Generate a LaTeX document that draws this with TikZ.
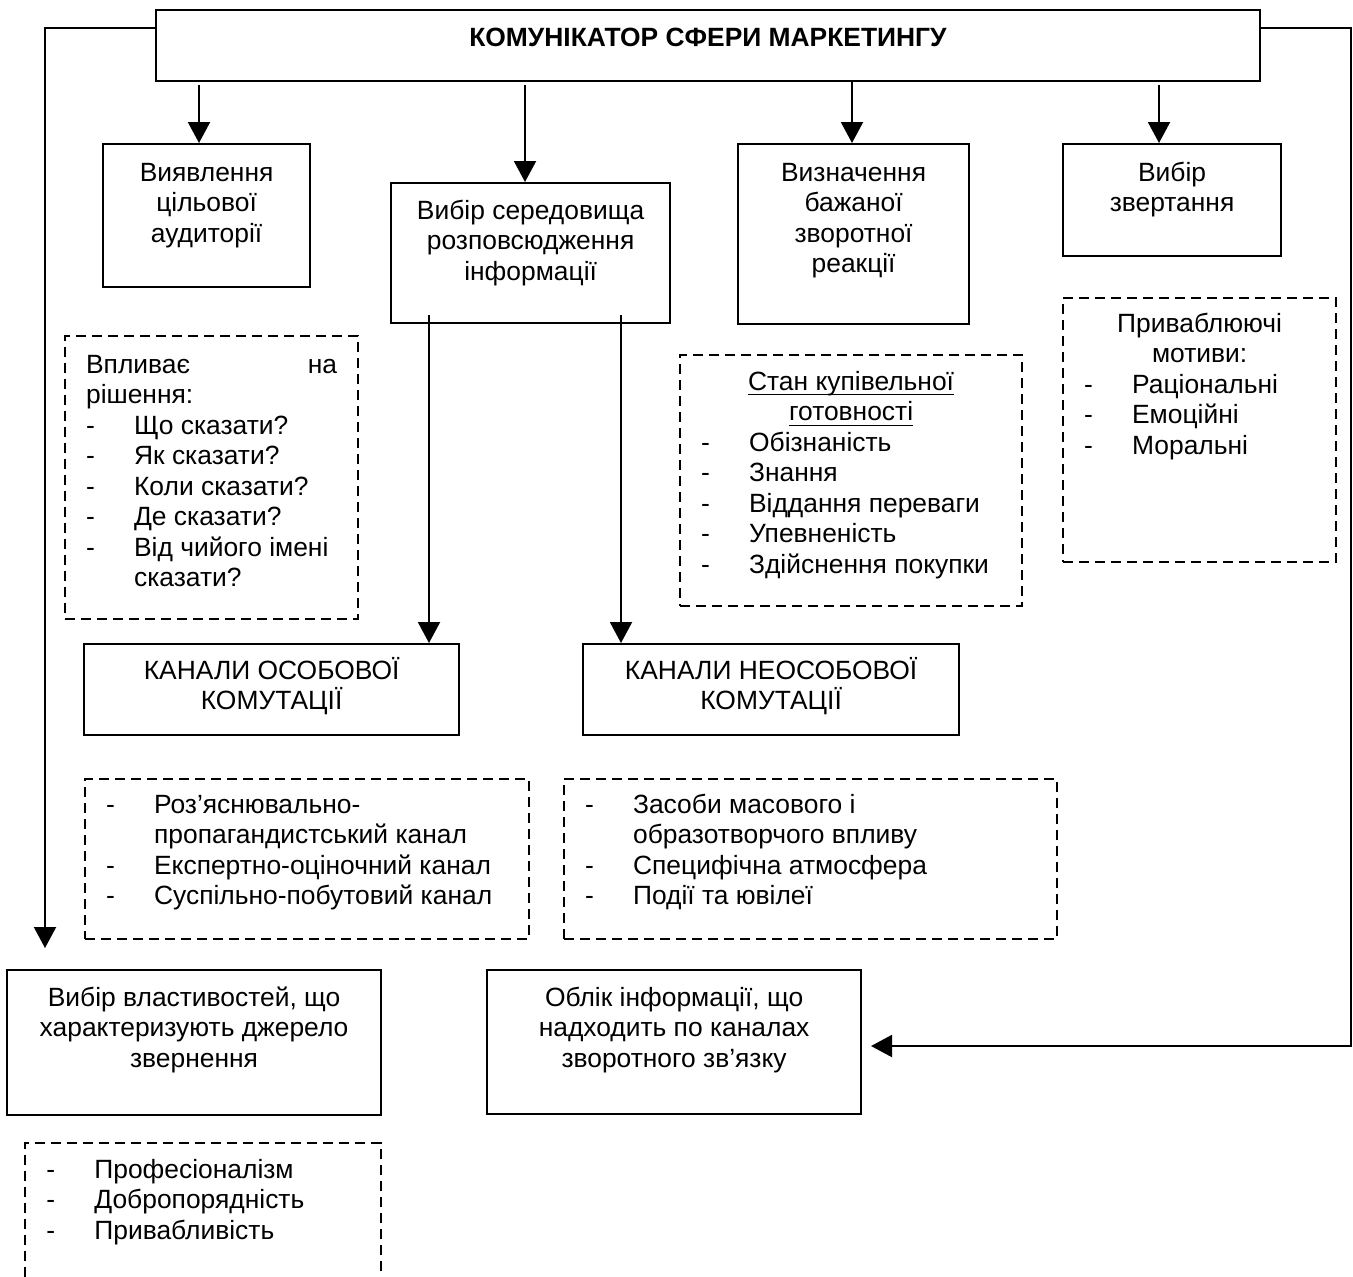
\documentclass[tikz,border=0pt]{standalone}
\usepackage{fontspec}
\setmainfont{Liberation Sans}
\usetikzlibrary{arrows.meta}
\newlength\px \setlength\px{0.5pt}
\newlength\ulw
\newcommand\uln[1]{\settowidth\ulw{#1}\rlap{\rule[-2.6pt]{\ulw}{0.6pt}}#1}
\newcommand\dashitem{\makebox[24pt][l]{-}}
\newcommand\contline{\hspace*{24pt}}
\newcommand\btext[4]{\parbox[t][#2][t]{#1}{\centering\rule{0pt}{#3}#4}}
\newcommand\dtext[4]{\parbox[t][#2][t]{#1}{\leftskip=10.5pt\rightskip=0pt plus 1fil\relax\rule{0pt}{#3}#4}}
\begin{document}
\begin{tikzpicture}[x=0.5pt,y=-0.5pt,
  font=\fontsize{13.2}{15.25}\selectfont,
  solidbox/.style={draw,line width=1.1pt,inner sep=0pt,anchor=north west},
  dashbox/.style={draw,line width=1.1pt,dash pattern=on 5pt off 3pt,inner sep=0pt,anchor=north west},
  plainbox/.style={inner sep=0pt,anchor=north west},
  dashline/.style={line width=1.1pt,dash pattern=on 5pt off 3pt},
  arr/.style={line width=1pt,-{Triangle[length=10.5pt,width=11pt]}}]
\useasboundingbox (0,0) rectangle (1353,1276);

\node[solidbox] (top) at (155,9) {\btext{1104\px}{71\px}{18pt}{\textbf{КОМУНІКАТОР СФЕРИ МАРКЕТИНГУ}}};
\node[solidbox] (b1) at (102,143) {\btext{207\px}{143\px}{18.5pt}{Виявлення\\цільової\\аудиторії}};
\node[solidbox] (b2) at (390,182) {\btext{279\px}{140\px}{18pt}{Вибір середовища\\розповсюдження\\інформації}};
\node[solidbox] (b3) at (737,143) {\btext{231\px}{180\px}{18.5pt}{Визначення\\бажаної\\зворотної\\реакції}};
\node[solidbox] (b4) at (1062,143) {\btext{218\px}{112\px}{18.5pt}{Вибір\\звертання}};

\node[dashbox] (d1) at (64,335) {\dtext{293\px}{283\px}{18.5pt}{\makebox[251\px]{Впливає\hfill на}\\рішення:\\\dashitem Що сказати?\\\dashitem Як сказати?\\\dashitem Коли сказати?\\\dashitem Де сказати?\\\dashitem Від чийого імені\\\contline сказати?}};
\node[dashbox] (d2) at (679,354) {\dtext{342\px}{251\px}{17.5pt}{\makebox[300\px]{\uln{Стан купівельної}}\\\makebox[300\px]{\uln{готовності}}\\\dashitem Обізнаність\\\dashitem Знання\\\dashitem Віддання переваги\\\dashitem Упевненість\\\dashitem Здійснення покупки}};
\node[dashbox] (d3) at (1062,297) {\dtext{273\px}{264\px}{17pt}{\makebox[231\px]{Приваблюючі}\\\makebox[231\px]{мотиви:}\\\dashitem Раціональні\\\dashitem Емоційні\\\dashitem Моральні}};

\node[solidbox] (k1) at (83,643) {\btext{375\px}{91\px}{17.5pt}{КАНАЛИ ОСОБОВОЇ\\КОМУТАЦІЇ}};
\node[solidbox] (k2) at (582,643) {\btext{376\px}{91\px}{17.5pt}{КАНАЛИ НЕОСОБОВОЇ\\КОМУТАЦІЇ}};
\node[dashbox] (d4) at (84,778) {\dtext{444\px}{160\px}{17pt}{\dashitem Роз’яснювально-\\\contline пропагандистський канал\\\dashitem Експертно-оціночний канал\\\dashitem Суспільно-побутовий канал}};
\node[dashbox] (d5) at (563,778) {\dtext{493\px}{160\px}{17pt}{\dashitem Засоби масового і\\\contline образотворчого впливу\\\dashitem Специфічна атмосфера\\\dashitem Події та ювілеї}};

\node[solidbox] (v) at (6,969) {\btext{374\px}{145\px}{18pt}{Вибір властивостей, що\\характеризують джерело\\звернення}};
\node[solidbox] (o) at (486,969) {\btext{374\px}{144\px}{18pt}{Облік інформації, що\\надходить по каналах\\зворотного зв’язку}};
\node[plainbox] (pb) at (25,1143) {\dtext{355\px}{133\px}{17.5pt}{\dashitem Професіоналізм\\\dashitem Добропорядність\\\dashitem Привабливість}};
\draw[dashline] (pb.south west) -- (pb.north west) -- (pb.north east) -- (pb.south east);

% arrows from the top box
\coordinate (t1) at (199,85);
\coordinate (t2) at (525,85);
\coordinate (t3) at (852,80);
\coordinate (t4) at (1159,85);
\draw[arr] (t1) -- (t1 |- b1.north);
\draw[arr] (t2) -- (t2 |- b2.north);
\draw[arr] (top.south -| t3) -- (t3 |- b3.north);
\draw[arr] (t4) -- (t4 |- b4.north);

% arrows from the media box
\coordinate (s1) at (429,315);
\coordinate (s2) at (621,315);
\draw[arr] (s1) -- (s1 |- k1.north);
\draw[arr] (s2) -- (s2 |- k2.north);

% feedback lines
\coordinate (lt) at (155,28);
\coordinate (la) at (45,948);
\draw[arr] (lt) -- (lt -| la) -- (la);
\coordinate (rt) at (1259,28);
\coordinate (rc) at (1351,28);
\coordinate (ra) at (871,1046);
\draw[arr] (rt) -- (rc) -- (rc |- ra) -- (ra);
\end{tikzpicture}
\end{document}
